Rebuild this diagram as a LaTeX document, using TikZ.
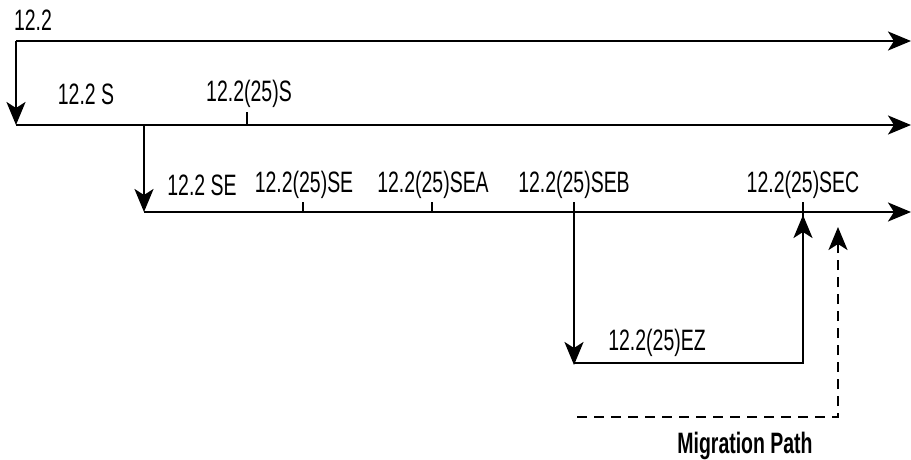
\documentclass[tikz,border=0pt]{standalone}
\usepackage{fontspec}
\setmainfont{Liberation Sans}[FakeStretch=0.66]
\usetikzlibrary{arrows.meta}
\begin{document}
\begin{tikzpicture}[x=1pt,y=-1pt,
  lbl/.style={font=\fontsize{29.5}{32}\selectfont, inner sep=0pt},
  mig/.style={font=\fontsize{29.5}{32}\selectfont\bfseries, inner sep=0pt},
  ln/.style={line width=2.4pt},
  arr/.style={ln, -{Stealth[length=23pt,width=19pt,inset=6pt]}},
  dsh/.style={ln, dash pattern=on 10pt off 7pt}]
\useasboundingbox (0,0) rectangle (911,460);
% coordinates
\coordinate (a0) at (16,41);
\coordinate (a1) at (911,41);
\coordinate (b0) at (16,125);
\coordinate (b1) at (911,125);
\coordinate (bt) at (247,112);
\coordinate (bb) at (247,125);
\coordinate (bv) at (144,125);
\coordinate (c0) at (144,212);
\coordinate (c1) at (911,212);
\coordinate (t1) at (303,202);
\coordinate (t1b) at (303,212);
\coordinate (t2) at (432,202);
\coordinate (t2b) at (432,212);
\coordinate (sebt) at (574,202);
\coordinate (sebb) at (574,365);
\coordinate (ezl) at (574,363);
\coordinate (ezr) at (803,363);
\coordinate (sect) at (803,202);
\coordinate (secarr) at (803,215);
\coordinate (m0) at (577,417);
\coordinate (m1) at (838,417);
\coordinate (mtop) at (838,247);
\coordinate (mbase) at (838,249);
\coordinate (mtip) at (838,227);
% labels
\node[lbl] (l122) at (33,20) {12.2};
\node[lbl] (l122s) at (86,94) {12.2 S};
\node[lbl] (l25s) at (249,94) {12.2(25)S};
\node[lbl] (lse) at (202,185) {12.2 SE};
\node[lbl] (l25se) at (304,185) {12.2(25)SE};
\node[lbl] (lsea) at (433,185) {12.2(25)SEA};
\node[lbl] (lseb) at (574,185) {12.2(25)SEB};
\node[lbl] (lsec) at (803,185) {12.2(25)SEC};
\node[lbl] (lez) at (657,343) {12.2(25)EZ};
\node[mig] (lmig) at (745,446) {Migration Path};
% lines
\draw[arr] (a0) -- (a1);
\draw[arr] (a0) -- (b0);
\draw[arr] (b0) -- (b1);
\draw[ln] (bt) -- (bb);
\draw[arr] (bv) -- (c0);
\draw[arr] (c0) -- (c1);
\draw[ln] (t1) -- (t1b);
\draw[ln] (t2) -- (t2b);
\draw[arr] (sebt) -- (sebb);
\draw[ln] (ezl) -- (ezr) -- (sect);
\draw[arr] (ezr) -- (secarr);
\draw[dsh] (m0) -- (m1) -- (mtop);
\draw[arr] (mbase) -- (mtip);
\end{tikzpicture}
\end{document}
